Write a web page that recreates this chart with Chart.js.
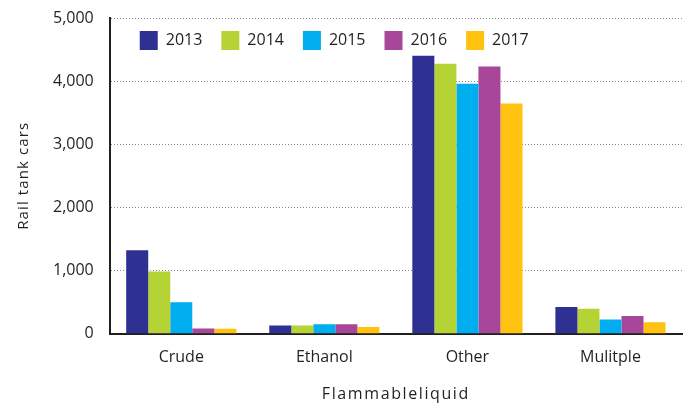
<!DOCTYPE html>
<html>
<head>
<meta charset="utf-8">
<script src="https://cdn.jsdelivr.net/npm/chart.js@4"></script>
<style>
  html, body { margin: 0; padding: 0; background: #fff; }
  #wrap { width: 691px; height: 410px; }
</style>
</head>
<body>
<div id="wrap"><canvas id="chart"></canvas></div>
<script>
// Rail tank cars by flammable liquid type
const categories = ['Crude', 'Ethanol', 'Other', 'Mulitple'];
const years = ['2013', '2014', '2015', '2016', '2017'];
const colors = ['#2E3192', '#B5D334', '#00AEEF', '#A8479A', '#FFC20E'];

const values2013 = [1320, 130, 4400, 420];
const values2014 = [985, 130, 4275, 395];
const values2015 = [495, 150, 3960, 225];
const values2016 = [80, 150, 4230, 280];
const values2017 = [75, 105, 3645, 180];

const yTicks = [0, 1000, 2000, 3000, 4000, 5000];

const seriesValues = [values2013, values2014, values2015, values2016, values2017];
const textColor = '#231F20';
const fontFamily = '"Open Sans", "Noto Sans", sans-serif';

// axis titles are letter-spaced in the original
const origDrawTitle = Chart.Scale.prototype.drawTitle;
Chart.Scale.prototype.drawTitle = function(area) {
    this.ctx.save();
    this.ctx.letterSpacing = this.axis === 'x' ? '1.6px' : '1.1px';
    origDrawTitle.call(this, area);
    this.ctx.restore();
};

// legend sits inside the plot area, one row
const legendInside = {
    id: 'legendInside',
    beforeLayout(chart) {
        const lg = chart.legend;
        if (lg && !lg._inside) {
            const fit = lg.fit;
            lg.fit = function() { fit.call(this); this.height = 0; };
            lg._inside = true;
        }
    },
    beforeDraw(chart) {
        const lg = chart.legend, ca = chart.chartArea;
        const w = lg.right - lg.left;
        lg.left = ca.left + 11;
        lg.right = lg.left + w;
        lg.top = ca.top - 6;
        lg.bottom = lg.top + 40;
    }
};

new Chart(document.getElementById('chart'), {
    type: 'bar',
    data: {
        labels: categories,
        datasets: years.map((y, i) => ({
            label: y,
            data: seriesValues[i],
            backgroundColor: colors[i],
            borderWidth: 0,
            barPercentage: 1,
            categoryPercentage: 0.77
        }))
    },
    options: {
        responsive: true,
        maintainAspectRatio: false,
        animation: false,
        layout: { padding: { top: 18, right: 9, left: 15, bottom: 6 } },
        plugins: {
            tooltip: { enabled: false },
            legend: {
                position: 'top',
                align: 'start',
                labels: {
                    boxWidth: 18,
                    boxHeight: 19,
                    padding: 19,
                    color: textColor,
                    font: { family: fontFamily, size: 16 }
                }
            }
        },
        scales: {
            x: {
                grid: { display: false },
                border: { color: '#231F20', width: 2 },
                ticks: {
                    color: textColor,
                    padding: 6,
                    font: { family: fontFamily, size: 16 }
                },
                title: {
                    display: true,
                    text: 'Flammableliquid',
                    color: textColor,
                    padding: { top: 12, bottom: 0 },
                    font: { family: fontFamily, size: 16 }
                }
            },
            y: {
                min: 0,
                max: 5000,
                afterBuildTicks: axis => { axis.ticks = yTicks.map(v => ({ value: v })); },
                grid: {
                    color: '#8c8c8c',
                    drawTicks: true,
                    tickLength: 12,
                    tickColor: 'rgba(0,0,0,0)',
                    lineWidth: ctx => (ctx.tick && ctx.tick.value === 0 ? 0 : 1)
                },
                border: { color: '#231F20', width: 2, dash: [1, 2] },
                ticks: {
                    color: textColor,
                    padding: 4,
                    font: { family: fontFamily, size: 16 },
                    callback: v => v.toLocaleString('en-US')
                },
                title: {
                    display: true,
                    text: 'Rail tank cars',
                    color: textColor,
                    padding: { top: 0, bottom: 16 },
                    font: { family: fontFamily, size: 15 }
                }
            }
        }
    },
    plugins: [legendInside]
});
</script>
</body>
</html>
